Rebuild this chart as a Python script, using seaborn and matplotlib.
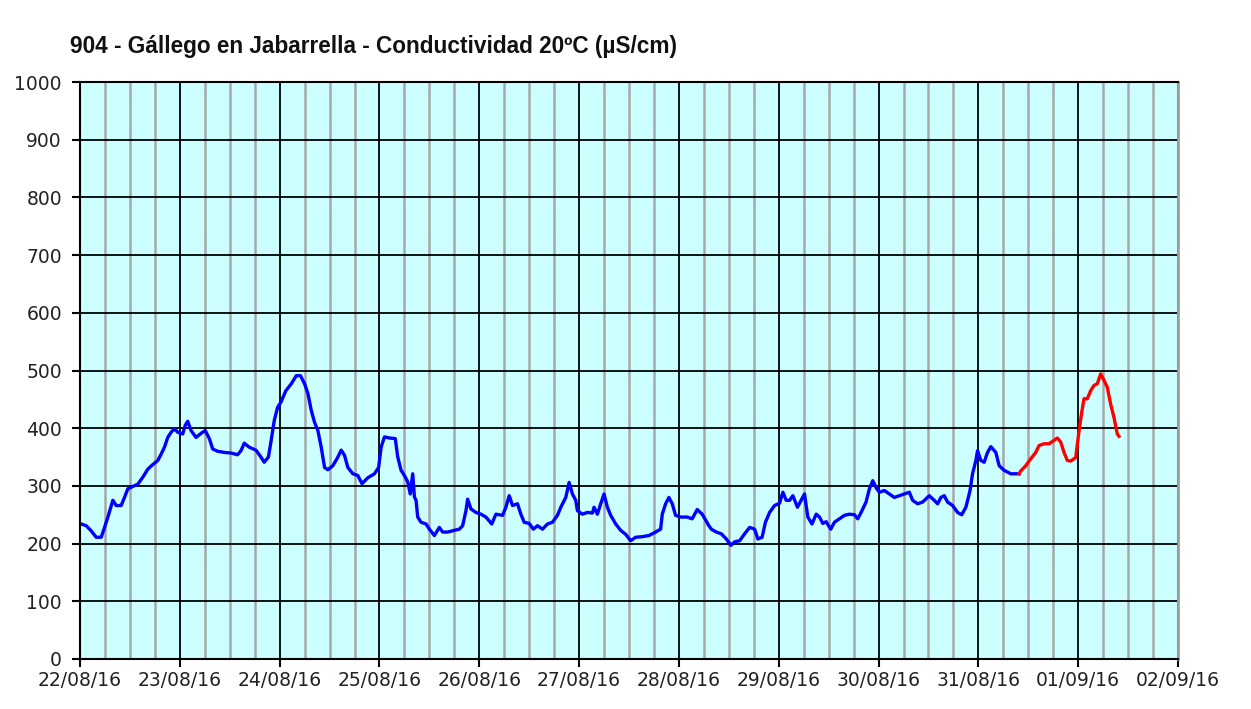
import matplotlib
matplotlib.use("Agg")
import matplotlib.pyplot as plt
from matplotlib.ticker import MultipleLocator, FixedLocator, FixedFormatter
import pandas as pd
import seaborn as sns

#%% Data (hours since 22/08/16 00:00, conductividad en µS/cm)

hours_valid = [0.3, 1.5, 2.7, 3.9, 5.1, 5.9, 6.7, 7.9, 8.7, 9.9,
               10.7, 11.5, 12.7, 13.9, 15.1, 16.3, 17.5, 18.7, 19.5, 20.3,
               21.1, 21.9, 22.7, 23.5, 24.7, 25.3, 25.9, 26.7, 27.9, 29.1,
               30.1, 31.1, 31.9, 33.1, 34.7, 36.3, 37.9, 38.7, 39.5, 40.7,
               42.3, 43.5, 44.3, 45.3, 45.9, 46.7, 47.5, 48.3, 49.5,
               50.8, 52, 53, 54, 54.8, 55.6, 56.4, 57.2, 58, 58.8,
               59.6, 60.8, 62, 62.8, 63.6, 64.4, 65.6, 66.8, 67.8, 69.2,
               70.8, 71.8, 72.4, 73.2, 74.4, 75.8, 76.4, 77.2, 78, 78.8,
               79.4, 80, 80.4, 80.8, 81.2, 82, 83.2, 84, 85.2, 86.4,
               87.2, 88.4, 90, 91.2, 92, 92.8, 93.2, 94, 95.2, 96.4,
               97.6, 99, 100,
               101.6, 102.4, 103.2, 104, 105.2, 106, 106.8, 108, 109, 110,
               111.2, 112.4, 113.6, 114.8, 115.6, 116.8, 117.6, 118.4, 119.2, 119.6,
               120.8, 122, 123.2, 123.6, 124.4, 125.2, 126, 126.8, 127.6, 128.8,
               130, 131.2, 132.4, 133.6, 135.2, 136.8, 138.4, 139.6, 140, 140.8,
               141.6, 142.4, 143.2, 144.4, 146, 147.2, 148.4, 149.6, 151.2,
               151.8, 153, 154.2, 155.4, 156.5, 157.4, 158.6, 159.8, 161, 162.2,
               163, 164, 164.8, 165.8, 167, 168.2, 169, 169.8, 170.6, 171.4,
               172.5, 173.4, 174.2, 175, 176, 177, 177.8, 178.6, 179.4, 180.5,
               181.4, 182.6, 183.8, 185, 186.2, 187, 187.8, 189, 189.8, 190.6,
               191.4, 192.2, 193.4, 194.6, 195.8, 197, 198.2, 199.4, 200.2, 201.4,
               202.6, 204.2, 205.4, 206.2, 207, 207.8, 208.6, 209.8, 211, 212,
               213, 214, 214.6, 215.4, 215.8, 216.6, 217.4, 218.2, 219, 220.2,
               221, 222.2, 223.8, 225.8]
cond_valid = [234, 231, 222, 211, 211, 228, 246, 275, 266, 266,
              280, 295, 299, 303, 315, 329, 337, 344, 355, 367,
              384, 393, 399, 393, 390, 405, 412, 396, 384, 391,
              396, 382, 364, 360, 358, 357, 354, 361, 374, 367,
              362, 350, 341, 350, 376, 413, 436, 445, 465,
              477, 491, 491, 477, 460, 431, 410, 396, 367, 332,
              328, 335, 350, 362, 353, 332, 321, 318, 304, 314,
              321, 332, 367, 385, 383, 382, 350, 327, 318, 307,
              286, 321, 281, 275, 246, 237, 234, 225, 214, 228,
              220, 220, 223, 225, 231, 257, 277, 260, 254, 251,
              246, 234, 251,
              249, 263, 283, 266, 269, 251, 237, 235, 225, 231,
              225, 234, 237, 249, 263, 280, 306, 286, 275, 257,
              251, 254, 253, 263, 251, 269, 286, 263, 249, 234,
              223, 216, 205, 211, 212, 214, 220, 225, 251, 269,
              280, 269, 249, 246, 246, 243, 259, 251, 231,
              225, 220, 217, 208, 197, 203, 205, 217, 228, 225,
              208, 211, 237, 254, 266, 270, 289, 275, 275, 283,
              263, 275, 286, 246, 234, 251, 246, 235, 238, 225,
              237, 243, 249, 251, 250, 243, 254, 272, 295, 309,
              297, 289, 292, 286, 280, 283, 286, 289, 275, 269,
              272, 283, 275, 269, 280, 283, 272, 266, 254, 250,
              263, 292, 321, 344, 361, 344, 341, 358, 368, 358,
              335, 327, 321, 321]

# last part, drawn in red
hours_prov = [225.8, 226.2, 227.4, 228.6, 229.8, 230.6, 231.8, 233, 234.2, 235,
              235.8, 236.6, 237.4, 238.2, 239.4, 240.2, 240.8, 241.4, 242.2, 243,
              243.8, 244.6, 245.4, 246, 247, 247.8, 248.6, 249.4, 249.8]
cond_prov = [321, 326, 335, 347, 358, 370, 373, 373, 379, 383,
             376, 358, 344, 343, 349, 395, 425, 451, 451, 465,
             474, 477, 494, 486, 471, 442, 419, 390, 386]

day_labels = ["22/08/16", "23/08/16", "24/08/16", "25/08/16", "26/08/16", "27/08/16",
              "28/08/16", "29/08/16", "30/08/16", "31/08/16", "01/09/16", "02/09/16"]

title = "904 - Gállego en Jabarrella - Conductividad 20ºC (µS/cm)"

df = pd.concat([
    pd.DataFrame({"hora": hours_valid, "valor": cond_valid, "serie": "valid"}),
    pd.DataFrame({"hora": hours_prov, "valor": cond_prov, "serie": "prov"}),
])

#%% Plot

plt.rcParams["font.family"] = "DejaVu Sans"

fig = plt.figure(figsize=(12.51, 7.09), dpi=100)
ax = fig.add_axes([80 / 1251, 1 - 659 / 709, 1098 / 1251, 577 / 709])
ax.set_facecolor("#ccffff")

sns.lineplot(data=df, x="hora", y="valor", hue="serie",
             palette={"valid": "#0000ff", "prov": "#ff0000"},
             estimator=None, sort=False, legend=False, linewidth=2.4, ax=ax)

ax.set_xlim(0, 24 * (len(day_labels) - 1))
ax.set_ylim(0, 1000)

ax.xaxis.set_major_locator(FixedLocator([24 * i for i in range(len(day_labels))]))
ax.xaxis.set_major_formatter(FixedFormatter(day_labels))
ax.xaxis.set_minor_locator(MultipleLocator(6))
ax.yaxis.set_major_locator(MultipleLocator(100))

ax.set_axisbelow(True)
ax.grid(which="major", axis="both", color="black", linewidth=1.3)
ax.grid(which="minor", axis="x", color="#a8a8a8", linewidth=1.8)

for side in ["left", "bottom", "top"]:
    ax.spines[side].set_color("black")
    ax.spines[side].set_linewidth(1.5)
ax.spines["right"].set_color("#a0a0a0")
ax.spines["right"].set_linewidth(2)

ax.tick_params(which="major", direction="out", length=6, width=1.5, color="black",
               labelsize=13.5, labelcolor="#222222")
ax.tick_params(which="minor", length=0)
ax.tick_params(axis="x", pad=3)
ax.tick_params(axis="y", pad=7)
ax.set_xlabel("")
ax.set_ylabel("")

fig.text(70 / 1251, 1 - 47 / 709, title, ha="left", va="center",
         fontsize=16.3, fontweight="bold", family="Liberation Sans", color="#111111")

fig.savefig("out.png", dpi=100, facecolor="white")
